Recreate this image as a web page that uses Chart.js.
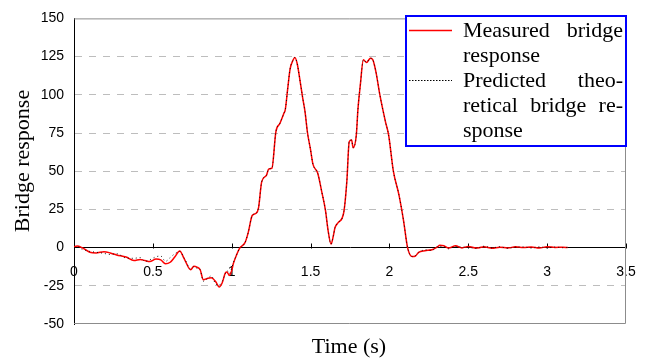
<!DOCTYPE html>
<html>
<head>
<meta charset="utf-8">
<script src="https://cdn.jsdelivr.net/npm/chart.js@4/dist/chart.umd.min.js"></script>
<style>
  html, body { margin: 0; padding: 0; background: #fff; }
  #wrap { width: 646px; height: 360px; position: relative; }
</style>
</head>
<body>
<div id="wrap"><canvas id="chartResp"></canvas></div>
<script>
'use strict';

/* ─── DATA ───────────────────────────────────────────────── */
const timeS = [
  0, 0.02, 0.05, 0.10, 0.14, 0.19, 0.23, 0.27, 0.33, 0.38,
  0.42, 0.45, 0.48, 0.52, 0.55, 0.58, 0.61, 0.64, 0.67, 0.70,
  0.74, 0.76, 0.78, 0.80, 0.82, 0.85, 0.87, 0.90, 0.92, 0.94,
  0.96, 0.97, 0.985, 1.00, 1.01, 1.03, 1.05, 1.085, 1.105, 1.13,
  1.155, 1.17, 1.19, 1.22, 1.235, 1.255, 1.28, 1.305, 1.33, 1.34,
  1.355, 1.37, 1.39, 1.40, 1.415, 1.435, 1.45, 1.465, 1.48, 1.50,
  1.515, 1.545, 1.57, 1.595, 1.61, 1.63, 1.645, 1.655, 1.675, 1.71,
  1.73, 1.745, 1.76, 1.77, 1.79, 1.80, 1.815, 1.835, 1.855, 1.88,
  1.895, 1.915, 1.94, 1.975, 1.995, 2.025, 2.06, 2.09, 2.115, 2.145,
  2.165, 2.185, 2.225, 2.27, 2.30, 2.32, 2.345, 2.375, 2.42, 2.46,
  2.50, 2.55, 2.60, 2.65, 2.70, 2.75, 2.80, 2.85, 2.90, 2.95,
  3.00, 3.05, 3.10, 3.13
];

const measured = [
  0.5, 1, 0, -3, -3.5, -2.7, -3.5, -4.8, -6.2, -8.5,
  -7.8, -8.5, -9.1, -7.5, -8, -10.6, -9.6, -6, -2.3, -7.5,
  -14.5, -12.2, -12.8, -14.5, -21, -20, -19.7, -22.5, -25.8, -23,
  -16.5, -16, -18.2, -15, -10.6, -5, -0.5, 3.4, 10, 21,
  22.5, 26, 43, 47.3, 51.5, 52, 75.8, 81.2, 87.7, 90.5,
  104, 116.8, 122.9, 124.4, 120.5, 108, 98, 88.8, 75.5, 63.9,
  54.6, 48.8, 37, 24, 12, 2.3, 8, 13.1, 16.3, 22.8,
  43.4, 69.3, 70.4, 65.4, 73.6, 90, 106, 122.9, 121.2, 124,
  122.9, 114.7, 99.6, 82.3, 73.6, 50, 34.7, 17.4, 0, -5.9,
  -5.5, -3.1, -2, -1.4, 0.1, 1.5, 1.2, -0.3, 1.2, -0.2,
  0.8, -0.3, 0.5, -0.4, 0.3, -0.2, 0.5, 0, 0.4, -0.3,
  0.6, 0.1, 0.2, 0
];

const predicted = [
  0, 0.5, -1, -2.5, -3, -3.8, -4.5, -4, -6.8, -7,
  -6.5, -9, -8, -6, -5.5, -9, -6.5, -4, -2.5, -7,
  -14, -12.5, -13.5, -14.5, -22, -20, -18.5, -24, -24.5, -22,
  -17, -15, -17, -13.5, -10, -5, -0.5, 3.4, 10, 21,
  22.5, 26, 43, 47.3, 51.5, 52, 75.8, 81.2, 87.7, 90.5,
  104, 116.8, 122.9, 124.4, 120.5, 108, 98, 88.8, 75.5, 63.9,
  54.6, 48.8, 37, 24, 12, 2.3, 8, 13.1, 16.3, 22.8,
  43.4, 69.3, 70.4, 65.4, 73.6, 90, 106, 122.9, 121.2, 124,
  122.9, 114.7, 99.6, 82.3, 73.6, 50, 34.7, 17.4, 0, -5.9,
  -5.2, -3.3, -1.5, -1.8, 0.5, 0.8, 0.6, -0.8, 0.7, 0.3,
  0.2, -0.6, 0.9, -0.2, 0.6, -0.5, 0.3, 0.4, -0.3, 0.5,
  -0.2, 0.4, -0.1, 0.2
];

const xTitle = 'Time (s)';
const yTitle = 'Bridge response';

// legend text, already broken into lines; true = justified line
const legendLines = [
  [['Measured', 'bridge'], true],
  [['response'], false],
  [['Predicted', 'theo-'], true],
  [['retical', 'bridge', 're-'], true],
  [['sponse'], false],
];

const SERIF = '"Liberation Serif", "Times New Roman", serif';
const SANS  = '"Liberation Sans", Arial, sans-serif';

const toPoints = vals => timeS.map((t, i) => ({ x: t, y: vals[i] }));

/* ─── PLUGINS ────────────────────────────────────────────── */
// grey frame round the plot + small upward tick marks on the zero axis
const framePlugin = {
  id: 'frame',
  beforeDatasetsDraw(chart) {
    const { ctx, chartArea: a, scales } = chart;
    ctx.save();
    ctx.strokeStyle = '#8c8c8c';
    ctx.lineWidth = 1;
    ctx.beginPath();
    ctx.moveTo(a.left, a.top + 0.5);
    ctx.lineTo(a.right - 0.5, a.top + 0.5);
    ctx.lineTo(a.right - 0.5, a.bottom - 0.5);
    ctx.lineTo(a.left, a.bottom - 0.5);
    ctx.stroke();

    const y0 = Math.round(scales.y.getPixelForValue(0)) + 0.5;
    ctx.strokeStyle = '#000';
    ctx.beginPath();
    scales.x.ticks.forEach(t => {
      if (t.value === 0) return;
      const x = Math.round(scales.x.getPixelForValue(t.value)) + 0.5;
      ctx.moveTo(x, y0);
      ctx.lineTo(x, y0 - 5);
    });
    ctx.stroke();
    ctx.restore();
  },
  afterDraw(chart) {
    const { ctx, chartArea: a } = chart;
    ctx.save();
    ctx.fillStyle = '#000';
    ctx.font = '22px ' + SERIF;
    ctx.textAlign = 'center';
    ctx.textBaseline = 'alphabetic';
    ctx.fillText(xTitle, (a.left + a.right) / 2 - 1, 353);

    ctx.translate(29, 161);
    ctx.rotate(-Math.PI / 2);
    ctx.fillText(yTitle, 0, 0);
    ctx.restore();
  },
};

// boxed legend with justified serif text
const legendBoxPlugin = {
  id: 'legendBox',
  afterDraw(chart) {
    const { ctx } = chart;
    const box = { l: 406, t: 16, r: 626, b: 146 };
    ctx.save();
    ctx.fillStyle = '#fff';
    ctx.fillRect(box.l, box.t, box.r - box.l, box.b - box.t);
    ctx.strokeStyle = '#0000ff';
    ctx.lineWidth = 2;
    ctx.strokeRect(box.l, box.t, box.r - box.l, box.b - box.t);

    // samples
    const ds = chart.data.datasets;
    ctx.lineWidth = 1.3;
    ctx.strokeStyle = ds[0].borderColor;
    ctx.beginPath(); ctx.moveTo(409, 30.5); ctx.lineTo(452, 30.5); ctx.stroke();
    ctx.lineWidth = 1;
    ctx.strokeStyle = ds[1].borderColor;
    ctx.setLineDash([1.5, 1.5]);
    ctx.beginPath(); ctx.moveTo(409, 80.5); ctx.lineTo(452, 80.5); ctx.stroke();
    ctx.setLineDash([]);

    // text
    ctx.fillStyle = '#000';
    ctx.font = '22px ' + SERIF;
    ctx.textBaseline = 'alphabetic';
    ctx.textAlign = 'left';
    const x0 = 463, x1 = 623;
    legendLines.forEach(([words, justify], i) => {
      const y = 37 + i * 25;
      if (!justify || words.length < 2) {
        ctx.fillText(words.join(' '), x0, y);
        return;
      }
      const widths = words.map(w => ctx.measureText(w).width);
      const gap = (x1 - x0 - widths.reduce((s, w) => s + w, 0)) / (words.length - 1);
      let x = x0;
      words.forEach((w, k) => { ctx.fillText(w, x, y); x += widths[k] + gap; });
    });
    ctx.restore();
  },
};

/* ─── CHART ──────────────────────────────────────────────── */
const hiddenGrid = v => (v === 0 || v === 150 || v === -50);

new Chart(document.getElementById('chartResp').getContext('2d'), {
  type: 'line',
  data: {
    datasets: [
      {
        label: 'Measured bridge response',
        data: toPoints(measured),
        borderColor: '#ff0000',
        borderWidth: 1.5,
        pointRadius: 0,
        cubicInterpolationMode: 'monotone',
        order: 1,
      },
      {
        label: 'Predicted theoretical bridge response',
        data: toPoints(predicted),
        borderColor: '#000000',
        borderWidth: 0.9,
        borderDash: [1, 3],
        pointRadius: 0,
        cubicInterpolationMode: 'monotone',
        order: 0,
      },
    ],
  },
  options: {
    responsive: true,
    maintainAspectRatio: false,
    animation: false,
    layout: { padding: { top: 15, right: 20, bottom: 36, left: 0 } },
    plugins: {
      legend: { display: false },
      tooltip: { enabled: false },
      title: { display: false },
    },
    scales: {
      x: {
        type: 'linear',
        position: { y: 0 },
        min: 0,
        max: 3.5,
        afterFit: s => { s.height = 0; },
        grid: { display: false },
        border: { display: true, color: '#000', width: 1 },
        ticks: {
          stepSize: 0.5,
          color: '#000',
          padding: 8,
          maxRotation: 0,
          font: { family: SANS, size: 14 },
          callback: v => String(Math.round(v * 10) / 10),
        },
      },
      y: {
        min: -50,
        max: 150,
        afterFit: s => { s.width = 74; },
        grid: {
          color: c => (c.tick && hiddenGrid(c.tick.value)) ? 'rgba(0,0,0,0)' : '#bdbdbd',
          lineWidth: 1,
          drawTicks: false,
        },
        border: { display: true, color: '#000', width: 1, dash: [7, 7] },
        ticks: {
          stepSize: 25,
          color: '#000',
          padding: 10,
          font: { family: SANS, size: 14 },
        },
      },
    },
  },
  plugins: [framePlugin, legendBoxPlugin],
});
</script>
</body>
</html>
